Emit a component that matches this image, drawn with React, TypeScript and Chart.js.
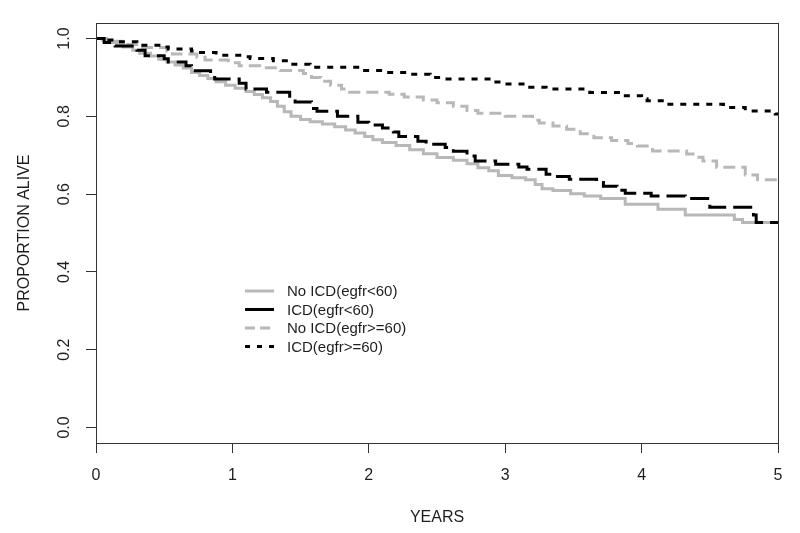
import React, { useEffect, useRef } from 'react';
import { Chart, registerables } from 'chart.js';

Chart.register(...registerables);

// ---- Data ----
const seriesLabels = ['No ICD(egfr<60)', 'ICD(egfr<60)', 'No ICD(egfr>=60)', 'ICD(egfr>=60)'];

const noIcdLowTimes = [0, 0.05, 0.1, 0.15, 0.2, 0.27, 0.32, 0.4, 0.46, 0.52, 0.58, 0.64, 0.7, 0.76, 0.82, 0.88, 0.95, 1.02, 1.1, 1.16, 1.22, 1.28, 1.33, 1.38, 1.43, 1.5, 1.57, 1.66, 1.75, 1.83, 1.9, 1.97, 2.03, 2.1, 2.2, 2.3, 2.4, 2.5, 2.62, 2.72, 2.8, 2.88, 2.95, 3.05, 3.15, 3.22, 3.27, 3.35, 3.48, 3.58, 3.7, 3.88, 4.12, 4.32, 4.68, 4.74, 5];
const noIcdLowSurv = [1, 0.995, 0.99, 0.985, 0.978, 0.97, 0.962, 0.955, 0.947, 0.94, 0.932, 0.924, 0.913, 0.905, 0.897, 0.889, 0.88, 0.872, 0.864, 0.856, 0.848, 0.838, 0.826, 0.812, 0.8, 0.792, 0.786, 0.78, 0.773, 0.765, 0.757, 0.748, 0.74, 0.733, 0.725, 0.714, 0.704, 0.694, 0.687, 0.678, 0.668, 0.66, 0.648, 0.642, 0.637, 0.625, 0.614, 0.609, 0.601, 0.595, 0.589, 0.574, 0.561, 0.546, 0.535, 0.527, 0.527];

const icdLowTimes = [0, 0.06, 0.14, 0.3, 0.36, 0.5, 0.53, 0.66, 0.7, 0.84, 0.87, 1.05, 1.1, 1.25, 1.42, 1.46, 1.58, 1.62, 1.77, 1.92, 2.0, 2.1, 2.18, 2.22, 2.36, 2.42, 2.56, 2.62, 2.72, 2.78, 2.93, 3.1, 3.16, 3.3, 3.36, 3.47, 3.67, 3.72, 3.82, 3.88, 4.07, 4.32, 4.5, 4.82, 4.84, 5];
const icdLowSurv = [1, 0.99, 0.981, 0.97, 0.956, 0.948, 0.94, 0.93, 0.917, 0.905, 0.896, 0.885, 0.87, 0.862, 0.845, 0.837, 0.82, 0.813, 0.8, 0.785, 0.778, 0.77, 0.76, 0.748, 0.736, 0.728, 0.72, 0.71, 0.698, 0.685, 0.677, 0.67, 0.664, 0.651, 0.645, 0.638, 0.63, 0.62, 0.61, 0.602, 0.595, 0.589, 0.566, 0.546, 0.527, 0.527];

const noIcdHighTimes = [0, 0.1, 0.2, 0.32, 0.52, 0.56, 0.74, 0.8, 0.97, 1.05, 1.2, 1.35, 1.52, 1.58, 1.65, 1.72, 1.8, 1.86, 2.15, 2.26, 2.4, 2.5, 2.62, 2.72, 2.8, 3.0, 3.2, 3.25, 3.35, 3.45, 3.55, 3.65, 3.78, 3.9, 3.97, 4.08, 4.33, 4.4, 4.45, 4.55, 4.76, 4.85, 5];
const noIcdHighSurv = [1, 0.993, 0.985, 0.977, 0.968, 0.96, 0.952, 0.945, 0.938, 0.93, 0.925, 0.918, 0.91, 0.9, 0.89, 0.88, 0.87, 0.862, 0.857, 0.85, 0.842, 0.835, 0.826, 0.815, 0.808, 0.8, 0.79, 0.783, 0.775, 0.767, 0.755, 0.745, 0.738, 0.73, 0.724, 0.711, 0.703, 0.695, 0.685, 0.669, 0.649, 0.637, 0.637];

const icdHighTimes = [0, 0.08, 0.16, 0.3, 0.5, 0.53, 0.7, 0.74, 0.88, 1.1, 1.13, 1.3, 1.42, 1.57, 1.94, 2.1, 2.3, 2.45, 2.55, 2.92, 3.0, 3.18, 3.3, 3.62, 3.85, 4.0, 4.04, 4.2, 4.6, 4.76, 4.98, 5];
const icdHighSurv = [1, 0.996, 0.992, 0.983, 0.978, 0.973, 0.968, 0.964, 0.957, 0.953, 0.949, 0.943, 0.934, 0.926, 0.918, 0.913, 0.908, 0.9, 0.896, 0.888, 0.883, 0.875, 0.87, 0.861, 0.853, 0.845, 0.84, 0.831, 0.823, 0.814, 0.806, 0.806];

const xTicks = [0, 1, 2, 3, 4, 5];
const yTicks = [0, 0.2, 0.4, 0.6, 0.8, 1.0];
const yTickLabels = ['0.0', '0.2', '0.4', '0.6', '0.8', '1.0'];
const xTitle = 'YEARS';
const yTitle = 'PROPORTION ALIVE';

// ---- Styles ----
const GREY = '#b8b8b8';
const BLACK = '#000000';
const AXIS = '#333333';
const TEXT = '#1e1e1e';
const FONT = '"Liberation Sans", Arial, sans-serif';
const seriesColors = [GREY, BLACK, GREY, BLACK];
const seriesDash = [[], [19, 7], [12, 6], [6, 7]];
const legendDash = [[], [], [10, 5], [5, 7]];

const toPoints = (t: number[], s: number[]) => t.map((x, i) => ({ x, y: s[i] }));

const overlay = {
  id: 'rOverlay',
  afterDraw(chart: any) {
    const { ctx, chartArea } = chart;
    const ys = chart.scales.y;
    ctx.save();
    // box
    ctx.strokeStyle = AXIS;
    ctx.lineWidth = 1;
    ctx.strokeRect(chartArea.left + 0.5, chartArea.top + 0.5, chartArea.right - chartArea.left, chartArea.bottom - chartArea.top);
    // y tick labels (rotated)
    ctx.fillStyle = TEXT;
    ctx.font = `16px ${FONT}`;
    ctx.textAlign = 'center';
    ctx.textBaseline = 'middle';
    yTicks.forEach((v, i) => {
      const py = ys.getPixelForValue(v);
      ctx.save();
      ctx.translate(65, py);
      ctx.rotate(-Math.PI / 2);
      ctx.fillText(yTickLabels[i], 0, 0);
      ctx.restore();
    });
    // titles
    ctx.font = `16px ${FONT}`;
    ctx.save();
    ctx.translate(25, (chartArea.top + chartArea.bottom) / 2);
    ctx.rotate(-Math.PI / 2);
    ctx.fillText(yTitle, 0, 0);
    ctx.restore();
    ctx.fillText(xTitle, (chartArea.left + chartArea.right) / 2, 518);
    // legend
    ctx.font = `15px ${FONT}`;
    ctx.textAlign = 'left';
    seriesLabels.forEach((lab, i) => {
      const y = 291 + i * 18.5;
      ctx.save();
      ctx.strokeStyle = seriesColors[i];
      ctx.lineWidth = 3;
      ctx.setLineDash(legendDash[i]);
      ctx.beginPath();
      ctx.moveTo(245, y);
      ctx.lineTo(274, y);
      ctx.stroke();
      ctx.restore();
      ctx.fillStyle = TEXT;
      ctx.fillText(lab, 287, y + 1);
    });
    ctx.restore();
  },
};

export default function App() {
  const ref = useRef<HTMLCanvasElement>(null);
  useEffect(() => {
    if (!ref.current) return;
    const data = [
      toPoints(noIcdLowTimes, noIcdLowSurv),
      toPoints(icdLowTimes, icdLowSurv),
      toPoints(noIcdHighTimes, noIcdHighSurv),
      toPoints(icdHighTimes, icdHighSurv),
    ];
    const drawOrder = [4, 1, 3, 2];
    const chart = new Chart(ref.current, {
      type: 'line',
      data: {
        datasets: seriesLabels.map((label, i) => ({
          label,
          data: data[i],
          borderColor: seriesColors[i],
          borderDash: seriesDash[i],
          borderWidth: 3,
          pointRadius: 0,
          stepped: 'before',
          fill: false,
          order: drawOrder[i],
          clip: 4,
          borderCapStyle: 'butt',
        })),
      },
      options: {
        animation: false,
        responsive: false,
        maintainAspectRatio: false,
        layout: { padding: { top: 23, right: 22, left: 0, bottom: 0 } },
        plugins: { legend: { display: false }, tooltip: { enabled: false } },
        scales: {
          x: {
            type: 'linear',
            min: 0,
            max: 5,
            afterBuildTicks: (s: any) => { s.ticks = xTicks.map((v) => ({ value: v })); },
            afterFit: (s: any) => { s.height = 90; },
            ticks: { font: { size: 16, family: FONT }, color: TEXT, padding: 13, maxRotation: 0 },
            grid: { display: true, drawOnChartArea: false, drawTicks: true, tickLength: 10, color: AXIS, lineWidth: 1 },
            border: { display: false },
          },
          y: {
            type: 'linear',
            min: -0.04,
            max: 1.04,
            afterBuildTicks: (s: any) => { s.ticks = yTicks.map((v) => ({ value: v })); },
            afterFit: (s: any) => { s.width = 96; },
            ticks: { display: false },
            grid: { display: true, drawOnChartArea: false, drawTicks: true, tickLength: 10, color: AXIS, lineWidth: 1 },
            border: { display: false },
          },
        },
      },
      plugins: [overlay],
    });
    return () => chart.destroy();
  }, []);
  return (
    <div style={{ position: 'fixed', left: 0, top: 0, width: 800, height: 533, background: '#fff' }}>
      <canvas ref={ref} width={800} height={533} />
    </div>
  );
}
